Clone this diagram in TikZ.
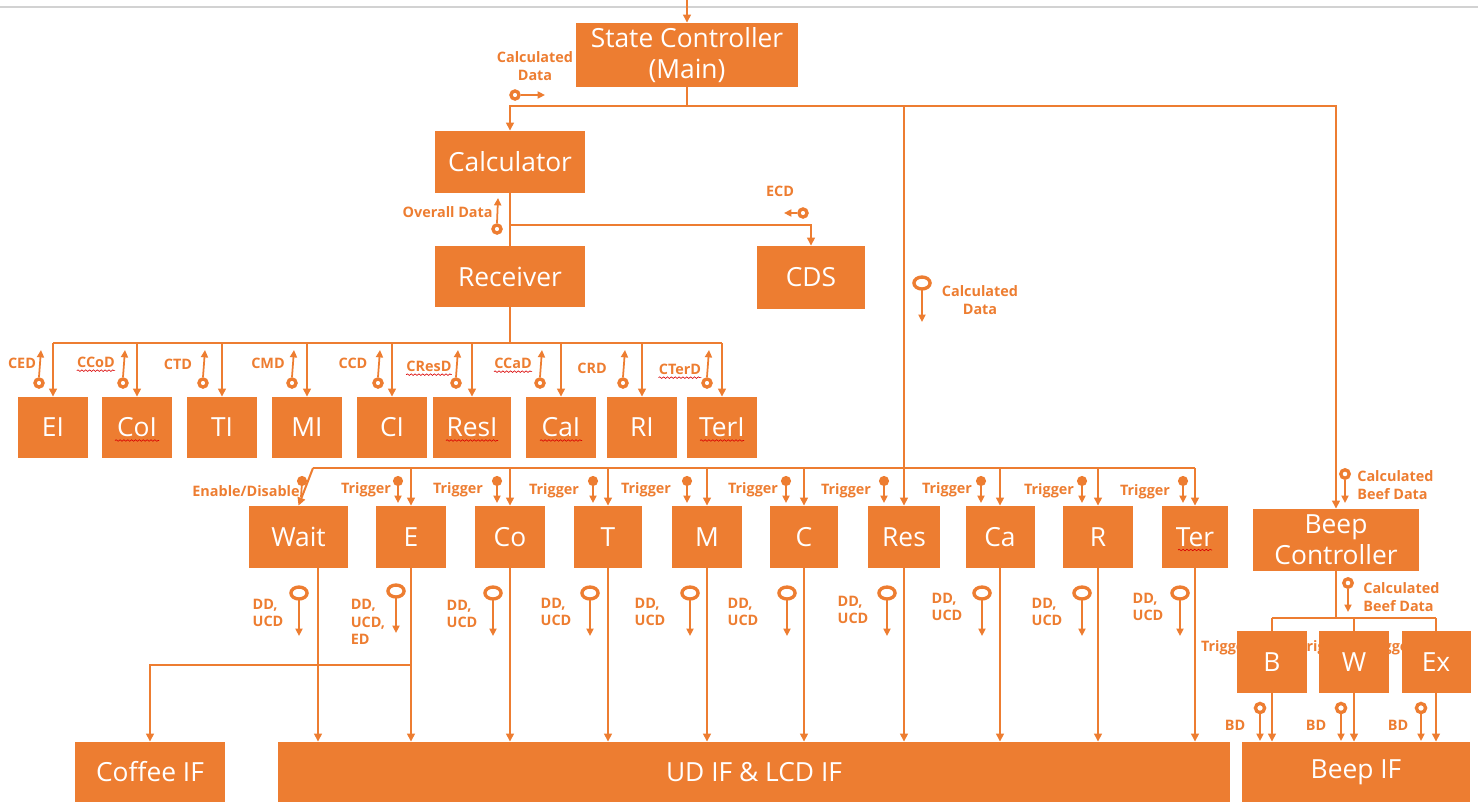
\documentclass[tikz,border=0pt]{standalone}
\usepackage{fontspec}
\setmainfont{Open Sans}
\usetikzlibrary{arrows.meta,decorations.pathmorphing,calc}
\definecolor{org}{HTML}{ED7D31}
\begin{document}
\begin{tikzpicture}[x=0.02cm,y=-0.02cm,
  box/.style={fill=org, text=white, inner sep=0pt, align=center, font=\fontsize{15}{17.6}\selectfont},
  conn/.style={draw=org, line width=1.15pt, -{Triangle[length=4.6pt,width=4.4pt]}},
  plain/.style={draw=org, line width=1.15pt},
  lbl/.style={text=org, font=\bfseries\fontsize{8.2}{10}\selectfont, align=center, inner sep=0pt},
  lbll/.style={lbl, align=left},
  sym/.style={draw=org, line width=1pt, -{Triangle[length=4.2pt,width=4pt]}},
  ring/.style={draw=org, line width=1.9pt},
  dotc/.style={fill=org},
  wavy/.style={draw=red!85!black, line width=0.35pt, decorate, decoration={snake, segment length=2.2pt, amplitude=0.45pt}},
]
\useasboundingbox (0,0) rectangle (1478,802);
\draw[gray!35, line width=0.6pt] (0,7) -- (1478,7);

% ---------- boxes ----------
\node[box, minimum width=4.44cm, minimum height=1.28cm] (sc) at (687,55) {State Controller\\(Main)};
\node[box, minimum width=3cm, minimum height=1.24cm] (calc) at (510,162) {Calculator};
\node[box, minimum width=3cm, minimum height=1.22cm] (recv) at (510,276.5) {Receiver};
\node[box, minimum width=2.16cm, minimum height=1.26cm] (cds) at (811,277.5) {CDS};

\node[box, minimum width=1.4cm, minimum height=1.22cm] (ei) at (53,427.5) {EI};
\node[box, minimum width=1.4cm, minimum height=1.22cm] (coi) at (137,427.5) {CoI};
\node[box, minimum width=1.4cm, minimum height=1.22cm] (ti) at (222,427.5) {TI};
\node[box, minimum width=1.4cm, minimum height=1.22cm] (mi) at (307,427.5) {MI};
\node[box, minimum width=1.4cm, minimum height=1.22cm] (ci) at (392,427.5) {CI};
\node[box, minimum width=1.56cm, minimum height=1.22cm] (resi) at (472,427.5) {ResI};
\node[box, minimum width=1.4cm, minimum height=1.22cm] (cai) at (561,427.5) {CaI};
\node[box, minimum width=1.4cm, minimum height=1.22cm] (ri) at (642,427.5) {RI};
\node[box, minimum width=1.4cm, minimum height=1.22cm] (teri) at (722,427.5) {TerI};

\node[box, minimum width=1.98cm, minimum height=1.24cm] (wait) at (298.5,537) {Wait};
\node[box, minimum width=1.4cm, minimum height=1.24cm] (e) at (411,537) {E};
\node[box, minimum width=1.4cm, minimum height=1.24cm] (co) at (510,537) {Co};
\node[box, minimum width=1.36cm, minimum height=1.24cm] (t) at (608,537) {T};
\node[box, minimum width=1.4cm, minimum height=1.24cm] (m) at (707,537) {M};
\node[box, minimum width=1.36cm, minimum height=1.24cm] (c) at (804,537) {C};
\node[box, minimum width=1.44cm, minimum height=1.24cm] (res) at (904,537) {Res};
\node[box, minimum width=1.38cm, minimum height=1.24cm] (ca) at (1000,537) {Ca};
\node[box, minimum width=1.4cm, minimum height=1.24cm] (r) at (1098,537) {R};
\node[box, minimum width=1.32cm, minimum height=1.24cm] (ter) at (1195,537) {Ter};

\node[box, minimum width=3.34cm, minimum height=1.24cm] (bc) at (1336,540) {Beep\\Controller};

% labels partly hidden behind the beep boxes
\node[lbl] (lbt1) at (1226,648) {Trigger};
\node[lbl] (lbt2) at (1324,648) {Trigger};
\node[lbl] (lbt3) at (1390,648) {Trigger};

\node[box, minimum width=1.4cm, minimum height=1.24cm] (b) at (1272,662) {B};
\node[box, minimum width=1.4cm, minimum height=1.24cm] (w) at (1354,662) {W};
\node[box, minimum width=1.38cm, minimum height=1.24cm] (ex) at (1436,662) {Ex};

\node[box, minimum width=3cm, minimum height=1.2cm] (cof) at (150,772) {Coffee IF};
\node[box, minimum width=19.04cm, minimum height=1.2cm] (ud) at (754,772) {UD IF \& LCD IF};
\node[box, minimum width=4.56cm, minimum height=1.2cm] (bif) at (1356,772) {Beep IF};

% ---------- connectors ----------
\coordinate (topin) at (687,0);
\draw[conn] (topin) -- (sc.north);
\coordinate (mbus) at (687,106);
\draw[plain] (sc.south) -- (mbus);
\draw[conn] (mbus) -| (calc.north);
\draw[conn] (mbus) -| (bc.north);
\draw[conn] (mbus) -| (res.north);

\draw[plain] (calc.south) -- (recv.north);
\coordinate (cb) at (510,225);
\draw[conn] (cb) -| (cds.north);

\coordinate (ib) at (510,343);
\draw[plain] (recv.south) -- (ib);
\draw[plain] (ei.north |- ib) -- (teri.north |- ib);
\foreach \n in {ei,coi,ti,mi,ci,resi,cai,ri,teri}
  \draw[conn] (\n.north |- ib) -- (\n.north);

\coordinate (tbL) at (313,468);
\draw[plain] (tbL) -- (ter.north |- tbL);
\draw[conn] (tbL) -- (wait.north);
\foreach \n in {e,co,t,m,c,ca,r,ter}
  \draw[conn] (\n.north |- tbL) -- (\n.north);

\coordinate (wout) at ($(wait.south)+(19.5,0)$);
\draw[conn] (wout) -- (wout |- ud.north);
\foreach \n in {e,co,t,m,c,res,ca,r,ter}
  \draw[conn] (\n.south) -- (\n.south |- ud.north);
\coordinate (cfb) at (e.south |- 0,665);
\draw[conn] (cfb) -| (cof.north);

\coordinate (bb) at (1336,618);
\draw[plain] (bc.south) -- (bb);
\draw[plain] (b.north |- bb) -- (ex.north |- bb);
\foreach \n in {b,w,ex}{
  \draw[plain] (\n.north |- bb) -- (\n.north);
  \draw[conn] (\n.south) -- (\n.south |- bif.north);
}

% ---------- signal symbols and labels ----------
% Calculated Data (top)
\node[lbl] (lcd1) at (535,66) {Calculated\\Data};
\draw[ring] (515,95) circle[radius=2.3pt];
\draw[sym] (521,95) -- (545,95);
% Overall Data
\node[lbl, anchor=east] (lod) at (493,212) {Overall Data};
\draw[ring] (497,229) circle[radius=2.3pt];
\draw[sym] (497,223) -- (498,198);
% ECD
\node[lbl] (lecd) at (780,191) {ECD};
\draw[ring] (803,213) circle[radius=2.3pt];
\draw[sym] (797,213) -- (784,213);
% Calculated Data (right bus)
\node[lbl] (lcd2) at (980,300) {Calculated\\Data};
\draw[ring] (922,283) ellipse[x radius=4.6pt, y radius=3.4pt];
\draw[sym] (922,289) -- (922,322);

% I-row symbols
\foreach \x/\lx/\ly/\t/\nm in {39/22/363/CED/l1, 123/96/362/CCoD/l2, 203/178/364/CTD/l3, 292/268/363/CMD/l4,
  378/353/363/CCD/l5, 456/429/366/CResD/l6, 540/513/363/CCaD/l7, 623/592/368/CRD/l8, 707/680/369/CTerD/l9}{
  \node[lbl] (\nm) at (\lx,\ly) {\t};
  \draw[ring] (\x,383) circle[radius=2.3pt];
  \draw[sym] (\x,377) -- (\x+2,350);
}

% Trigger symbols
\node[lbl] (len) at (246,491) {Enable/Disable};
\fill[dotc] (302,481) circle[radius=2.9pt];
\draw[draw=org, line width=1pt] (302,483) -- (301,497);
\foreach \x/\lx/\ly in {398/366/490, 497/458/490, 593/554/491, 687/646/490, 786/753/490,
  884/846/491, 981/947/490, 1082/1049/491, 1183/1145/492}{
  \node[lbl] at (\lx,\ly) {Trigger};
  \fill[dotc] (\x,481) circle[radius=2.9pt];
  \draw[sym] (\x,484) -- (\x,503);
}

% DD/UCD symbols
\foreach \x/\lx/\ly in {299/268/613, 493/462/614, 590/556/612, 690/650/612, 787/743/612,
  887/853/610, 982/947/607, 1082/1047/612, 1180/1148/607}{
  \node[lbll] at (\lx,\ly) {DD,\\UCD};
  \draw[ring] (\x,593) ellipse[x radius=4.6pt, y radius=3.4pt];
  \draw[sym] (\x,599) -- (\x,636);
}
\node[lbll] (lded) at (368,622) {DD,\\UCD,\\ED};
\draw[ring] (396,591) ellipse[x radius=4.6pt, y radius=3.4pt];
\draw[sym] (396,597) -- (396,633);

% Beef data
\node[lbll, anchor=west] (lbd1) at (1357,485) {Calculated\\Beef Data};
\draw[ring] (1345,474) circle[radius=2.4pt];
\draw[sym] (1345,480) -- (1345,503);
\node[lbll, anchor=west] (lbd2) at (1363,597) {Calculated\\Beef Data};
\draw[ring] (1348,583) circle[radius=2.4pt];
\draw[sym] (1348,589) -- (1348,612);

% BD
\foreach \x/\lx in {1260/1235, 1341/1316, 1421/1398}{
  \node[lbl] at (\lx,725) {BD};
  \draw[ring] (\x,708) circle[radius=2.6pt];
  \draw[sym] (\x,714) -- (\x,741);
}

% spell-check underlines
\draw[wavy] ($(l2.south west)+(0,3)$) -- ($(l2.south east)+(0,3)$);
\draw[wavy] ($(l6.south west)+(0,3)$) -- ($(l6.south east)+(0,3)$);
\draw[wavy] ($(l7.south west)+(0,3)$) -- ($(l7.south east)+(0,3)$);
\draw[wavy] ($(l9.south west)+(0,3)$) -- ($(l9.south east)+(0,3)$);
\draw[wavy] ($(coi.center)+(-22,13)$) -- ($(coi.center)+(22,13)$);
\draw[wavy] ($(resi.center)+(-26,13)$) -- ($(resi.center)+(26,13)$);
\draw[wavy] ($(cai.center)+(-21,13)$) -- ($(cai.center)+(21,13)$);
\draw[wavy] ($(teri.center)+(-22,13)$) -- ($(teri.center)+(22,13)$);
\draw[wavy] ($(ter.center)+(-17,13)$) -- ($(ter.center)+(17,13)$);
\end{tikzpicture}
\end{document}
